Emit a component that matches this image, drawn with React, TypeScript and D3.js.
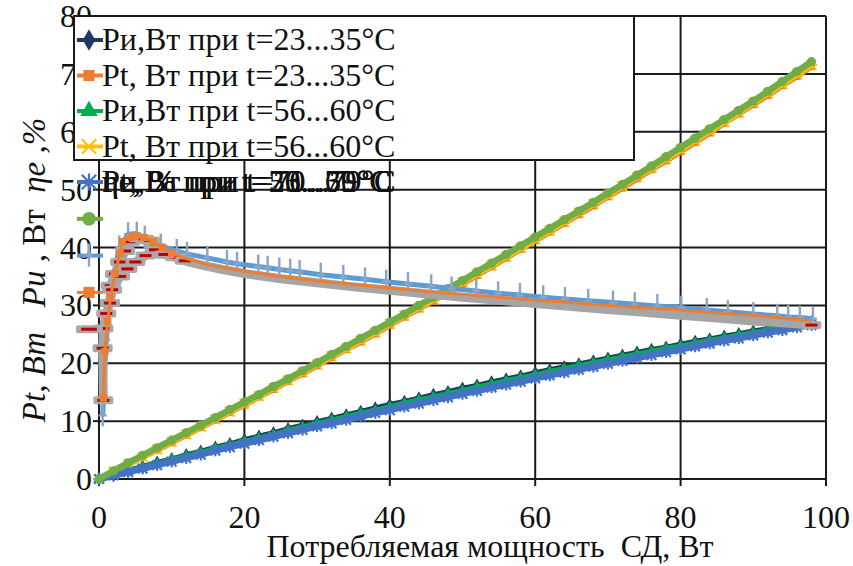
import React, { useEffect, useState } from "react";
import * as d3 from "d3";

// Consumed power of the motor, W (shared abscissa for the power series)
const powerX = [0, 2, 4, 6, 8, 10, 12, 14, 16, 18, 20, 22, 24, 26, 28, 30, 32, 34, 36, 38, 40, 42, 44, 46, 48, 50, 52, 54, 56, 58, 60, 62, 64, 66, 68, 70, 72, 74, 76, 78, 80, 82, 84, 86, 88, 90, 92, 94, 96, 98];

// Pи, W at t = 23...35 °C
const piCool = [0, 0.7, 1.4, 2.1, 2.8, 3.4, 4.1, 4.7, 5.4, 6.0, 6.7, 7.3, 7.9, 8.6, 9.2, 9.8, 10.4, 11.0, 11.6, 12.2, 12.8, 13.3, 13.9, 14.5, 15.0, 15.6, 16.1, 16.7, 17.2, 17.7, 18.3, 18.8, 19.3, 19.8, 20.3, 20.8, 21.3, 21.8, 22.3, 22.7, 23.2, 23.7, 24.1, 24.6, 25.0, 25.5, 25.9, 26.3, 26.7, 27.1];
// Pt, W at t = 23...35 °C
const ptCool = [0, 1.2, 2.5, 3.8, 5.0, 6.3, 7.6, 8.9, 10.2, 11.5, 12.8, 14.2, 15.5, 16.9, 18.2, 19.6, 21.0, 22.4, 23.7, 25.1, 26.6, 28.0, 29.4, 30.8, 32.3, 33.7, 35.2, 36.7, 38.2, 39.7, 41.2, 42.7, 44.2, 45.7, 47.2, 48.8, 50.3, 51.9, 53.5, 55.0, 56.6, 58.2, 59.8, 61.5, 63.1, 64.7, 66.3, 68.0, 69.6, 71.3];
// Pи, W at t = 56...60 °C
const piWarm = [0, 0.6, 1.3, 2.0, 2.6, 3.3, 3.9, 4.5, 5.2, 5.8, 6.4, 7.0, 7.6, 8.3, 8.9, 9.5, 10.1, 10.7, 11.3, 11.8, 12.4, 13.0, 13.6, 14.1, 14.7, 15.2, 15.8, 16.3, 16.9, 17.4, 17.9, 18.5, 19.0, 19.5, 20.0, 20.5, 21.0, 21.5, 22.0, 22.5, 22.9, 23.4, 23.9, 24.3, 24.8, 25.2, 25.7, 26.1, 26.5, 26.9];
// Pt, W at t = 56...60 °C
const ptWarm = [0, 1.3, 2.6, 3.8, 5.1, 6.4, 7.7, 9.0, 10.3, 11.6, 13.0, 14.3, 15.7, 17.0, 18.4, 19.8, 21.2, 22.5, 23.9, 25.3, 26.8, 28.2, 29.6, 31.0, 32.5, 34.0, 35.4, 36.9, 38.4, 39.9, 41.4, 42.9, 44.4, 46.0, 47.5, 49.0, 50.6, 52.2, 53.7, 55.3, 56.9, 58.5, 60.1, 61.7, 63.3, 65.0, 66.6, 68.2, 69.9, 71.5];
// Pи, W at t = 70...79 °C
const piHot = [0, 0.6, 1.2, 1.8, 2.4, 3.0, 3.6, 4.2, 4.9, 5.5, 6.1, 6.7, 7.3, 7.9, 8.5, 9.1, 9.6, 10.2, 10.8, 11.4, 11.9, 12.5, 13.0, 13.6, 14.1, 14.7, 15.2, 15.8, 16.3, 16.8, 17.4, 17.9, 18.4, 18.9, 19.4, 19.9, 20.4, 20.9, 21.4, 21.9, 22.4, 22.9, 23.4, 23.9, 24.3, 24.8, 25.3, 25.7, 26.2, 26.6];
// Pt, W at t = 70...79 °C
const ptHot = [0, 1.4, 2.8, 4.1, 5.4, 6.7, 8.0, 9.3, 10.6, 12.0, 13.3, 14.6, 16.0, 17.3, 18.7, 20.1, 21.5, 22.9, 24.3, 25.7, 27.1, 28.5, 30.0, 31.4, 32.9, 34.3, 35.8, 37.3, 38.8, 40.3, 41.8, 43.3, 44.8, 46.3, 47.8, 49.4, 50.9, 52.5, 54.1, 55.7, 57.3, 58.9, 60.5, 62.1, 63.7, 65.3, 67.0, 68.7, 70.4, 72.1];

// Efficiency ηе, % — three runs
const effBlueX = [0.5, 1.0, 1.8, 2.8, 4.0, 5.2, 6.3, 8.5, 10.7, 12.1, 14.9, 17.6, 19.0, 21.9, 23.2, 24.8, 26.3, 27.6, 30.5, 33.6, 36.6, 39.5, 42.5, 45.7, 48.5, 51.9, 54.9, 57.9, 61.1, 64.1, 67.3, 70.7, 73.7, 76.8, 80.1, 83.6, 86.5, 90.0, 93.3, 94.8, 96.4, 98.2];
const effBlueY = [11.0, 24.0, 34.0, 40.0, 42.3, 42.4, 41.7, 40.3, 39.4, 38.9, 38.2, 37.5, 37.2, 36.7, 36.5, 36.2, 36.0, 35.8, 35.3, 34.9, 34.5, 34.1, 33.7, 33.3, 32.9, 32.5, 32.1, 31.8, 31.4, 31.1, 30.8, 30.5, 30.2, 29.9, 29.6, 29.2, 28.9, 28.5, 28.2, 28.0, 27.9, 27.7];

const effOrangeX = [0.6, 0.8, 1.2, 1.6, 2.2, 2.9, 3.2, 4.2, 5.0, 6.2, 7.4, 8.7, 10.0, 12.0, 15.0, 20.0, 25.0, 30.0, 35.0, 40.0, 45.0, 50.0, 55.0, 60.0, 65.0, 70.0, 75.0, 80.0, 85.0, 90.0, 95.0, 98.0];
const effOrangeY = [14.0, 22.0, 27.2, 31.5, 35.5, 39.0, 41.0, 41.8, 42.0, 41.7, 41.0, 40.0, 39.0, 38.1, 37.0, 35.9, 35.0, 34.2, 33.6, 33.0, 32.4, 31.9, 31.4, 30.9, 30.5, 30.0, 29.6, 29.2, 28.7, 28.3, 27.7, 27.3];

const effGrayX = [0.6, 0.5, 0.6, 1.0, 1.5, 1.6, 2.2, 2.9, 3.6, 4.3, 5.4, 6.2, 7.0, 7.7, 9.0, 10.5, 11.8, 14, 17, 20, 25, 30, 35, 40, 45, 50, 55, 60, 65, 70, 75, 80, 85, 90, 95, 98];
const effGrayY = [13.6, 22.6, 26.0, 28.6, 30.4, 33.4, 35.4, 37.5, 39.4, 41.0, 41.6, 41.5, 41.2, 40.1, 38.8, 38.3, 37.7, 37.0, 36.2, 35.5, 34.6, 33.9, 33.2, 32.6, 32.0, 31.4, 30.9, 30.3, 29.8, 29.3, 28.8, 28.3, 27.8, 27.3, 26.9, 26.6];
const effGrayBackX = [1.5, 1.8, 2.9, 3.9, 5.0, 6.4, 7.7, 9.0];
const effGrayBackY = [30.4, 32.7, 35.0, 36.3, 37.5, 38.6, 39.6, 38.8];

const xTicks = [0, 20, 40, 60, 80, 100];
const yTicks = [0, 10, 20, 30, 40, 50, 60, 70, 80];

const legendBoxed = [
  "Pи,Вт при t=23...35°C",
  "Pt, Вт при t=23...35°C",
  "Pи,Вт при t=56...60°C",
  "Pt, Вт при t=56...60°C",
];
const legendStacked = [
  "Pи,Вт при t=70...79°C",
  "Pt, Вт при t=70...79°C",
  "ηе, % при t=23...35°C",
  "ηе, % при t=56...60°C",
  "ηе, % при t=70...79°C",
];

const W = 853;
const H = 566;
const FONT = '"Liberation Serif", "Times New Roman", Times, serif';

const x = d3.scaleLinear().domain([0, 100]).range([99, 826]);
const y = d3.scaleLinear().domain([0, 80]).range([479, 16]);

type MarkerKind = "diamond" | "square" | "triangle" | "starH" | "starV" | "circle" | "plus" | "dash";

function Marker({ kind, cx, cy, color, s = 1 }: { kind: MarkerKind; cx: number; cy: number; color: string; s?: number }) {
  const t = `translate(${cx},${cy})`;
  switch (kind) {
    case "diamond":
      return <path transform={t} d={d3.symbol(d3.symbolDiamond, 60 * s * s)()!} fill={color} />;
    case "square":
      return <path transform={t} d={d3.symbol(d3.symbolSquare, 55 * s * s)()!} fill={color} />;
    case "triangle":
      return <path transform={t} d={d3.symbol(d3.symbolTriangle, 60 * s * s)()!} fill={color} />;
    case "circle":
      return <circle cx={cx} cy={cy} r={4.6 * s} fill={color} />;
    case "starH": {
      const r = 4.8 * s;
      return (
        <g transform={t} stroke={color} strokeWidth={2}>
          <line x1={-r} y1={-r} x2={r} y2={r} />
          <line x1={-r} y1={r} x2={r} y2={-r} />
          <line x1={-r * 1.2} y1={0} x2={r * 1.2} y2={0} />
        </g>
      );
    }
    case "starV": {
      const r = 4.8 * s;
      return (
        <g transform={t} stroke={color} strokeWidth={2.2}>
          <line x1={-r} y1={-r} x2={r} y2={r} />
          <line x1={-r} y1={r} x2={r} y2={-r} />
          <line x1={0} y1={-r * 1.2} x2={0} y2={r * 1.2} />
        </g>
      );
    }
    case "plus":
      return (
        <g transform={t} stroke="#8aa5c8" strokeWidth={2.4}>
          <line x1={0} y1={-12} x2={0} y2={11} />
          <line x1={-4} y1={0} x2={4} y2={0} />
        </g>
      );
    case "dash":
      return (
        <g transform={t}>
          <rect x={-10 * s} y={-4} width={20 * s} height={8} rx={2} fill="#a9a9a9" />
          <rect x={-6 * s} y={-1.5} width={12 * s} height={3} fill="#c00000" />
        </g>
      );
  }
  return null;
}

type Series = { xs: number[]; ys: number[]; color: string; width: number; marker: MarkerKind; markFilter?: (xv: number, i: number, n: number) => boolean };

const powerSeries: Series[] = [
  { xs: powerX, ys: piCool, color: "#1f3864", width: 6, marker: "diamond" },
  { xs: powerX, ys: ptCool, color: "#ed7d31", width: 6, marker: "square" },
  { xs: powerX, ys: piWarm, color: "#00b050", width: 6, marker: "triangle" },
  { xs: powerX, ys: ptWarm, color: "#ffc000", width: 6, marker: "starH" },
  { xs: powerX, ys: piHot, color: "#4472c4", width: 6.5, marker: "starV" },
  { xs: powerX, ys: ptHot, color: "#70ad47", width: 6.5, marker: "circle" },
];

const earlyOnly = (xv: number) => xv < 12;
const effSeries: Series[] = [
  { xs: effBlueX, ys: effBlueY, color: "#5b9bd5", width: 5, marker: "plus" },
  { xs: effGrayX, ys: effGrayY, color: "#a5a5a5", width: 9, marker: "dash", markFilter: (xv, i, n) => xv < 12 || i === n - 1 },
  { xs: effGrayBackX, ys: effGrayBackY, color: "#a5a5a5", width: 9, marker: "dash" },
  { xs: effOrangeX, ys: effOrangeY, color: "#ed7d31", width: 3, marker: "square", markFilter: earlyOnly },
];

const line = d3
  .line<[number, number]>()
  .x((d) => x(d[0]))
  .y((d) => y(d[1]));

function SeriesPath({ s }: { s: Series }) {
  const pts: [number, number][] = s.xs.map((xv, i) => [xv, s.ys[i]]);
  const n = pts.length;
  return (
    <g>
      <path d={line(pts)!} fill="none" stroke={s.color} strokeWidth={s.width} strokeLinejoin="round" />
      {pts.map((p, i) =>
        !s.markFilter || s.markFilter(p[0], i, n) ? (
          <Marker key={i} kind={s.marker} cx={x(p[0])} cy={y(p[1])} color={s.color} />
        ) : null
      )}
    </g>
  );
}

function LegendSwatch({ s, cy, scale = 1.5 }: { s: Series; cy: number; scale?: number }) {
  const w = Math.min(s.width, 4);
  return (
    <g>
      <line x1={77} x2={103} y1={cy} y2={cy} stroke={s.color} strokeWidth={w} />
      <Marker kind={s.marker} cx={89} cy={cy} color={s.color} s={s.marker === "dash" ? 1.3 : scale} />
    </g>
  );
}

export default function App() {
  const fs = 32;
  const [fontsReady, setFontsReady] = useState(false);

  useEffect(() => {
    const f = (document as any).fonts;
    if (!f) return;
    Promise.all([f.load('32px "Liberation Serif"'), f.load('italic 32px "Liberation Serif"')])
      .catch(() => null)
      .then(() => setFontsReady(true));
  }, []);

  return (
    <svg
      key={fontsReady ? "ready" : "init"}
      width={W}
      height={H}
      fontFamily={FONT}
      style={{ position: "absolute", left: 0, top: 0, background: "#fff" }}
    >
      <style>{`text { font-family: ${FONT}; white-space: pre; }`}</style>
      <rect width={W} height={H} fill="#fff" />
      {/* grid */}
      <g stroke="#1a1a1a" strokeWidth={2}>
        {yTicks.map((t) => (
          <line key={"gy" + t} x1={x(0)} x2={x(100)} y1={y(t)} y2={y(t)} />
        ))}
        {xTicks.map((t) => (
          <line key={"gx" + t} x1={x(t)} x2={x(t)} y1={y(0)} y2={y(80)} />
        ))}
        {yTicks.map((t) => (
          <line key={"ty" + t} x1={x(0) - 6} x2={x(0)} y1={y(t)} y2={y(t)} />
        ))}
        {xTicks.map((t) => (
          <line key={"tx" + t} x1={x(t)} x2={x(t)} y1={y(0)} y2={y(0) + 7} />
        ))}
      </g>

      {/* tick labels */}
      <g fontSize={fs} fill="#111">
        {yTicks.map((t) => (
          <text key={"ly" + t} x={92} y={y(t) + 11} textAnchor="end">
            {String(t)}
          </text>
        ))}
        {xTicks.map((t) => (
          <text key={"lx" + t} x={x(t)} y={528} textAnchor="middle">
            {String(t)}
          </text>
        ))}
      </g>

      {/* axis titles */}
      <text x={490} y={557} textAnchor="middle" fontSize={fs} fill="#111">
        {"Потребляемая мощность  СД, Вт"}
      </text>
      <text transform="translate(45,270) rotate(-90)" textAnchor="middle" fontSize={33} fill="#111">
        <tspan fontStyle="italic">{"Pt, Вт   Pи , "}</tspan>
        <tspan>{"Вт  "}</tspan>
        <tspan fontStyle="italic">{"ηе ,%"}</tspan>
      </text>

      {/* series */}
      {powerSeries.map((s, i) => (
        <SeriesPath key={"p" + i} s={s} />
      ))}
      {effSeries.map((s, i) => (
        <SeriesPath key={"e" + i} s={s} />
      ))}

      {/* legend */}
      <rect x={74} y={16} width={560} height={144} fill="#fff" stroke="#1a1a1a" strokeWidth={2} />
      {legendBoxed.map((label, i) => (
        <g key={"lg" + i}>
          <LegendSwatch s={powerSeries[i]} cy={40 + i * 35.5} />
          <text x={102} y={40 + i * 35.5 + 10} fontSize={fs} fill="#111">
            {label}
          </text>
        </g>
      ))}
      {[powerSeries[4], powerSeries[5], effSeries[0], effSeries[3], effSeries[1]].map((s, i) => (
        <LegendSwatch key={"ls" + i} s={s} cy={182 + i * 36.8} />
      ))}
      {legendStacked.map((label, i) => (
        <text key={"lt" + i} x={102} y={192} fontSize={fs} fill="#111">
          {label}
        </text>
      ))}
    </svg>
  );
}
